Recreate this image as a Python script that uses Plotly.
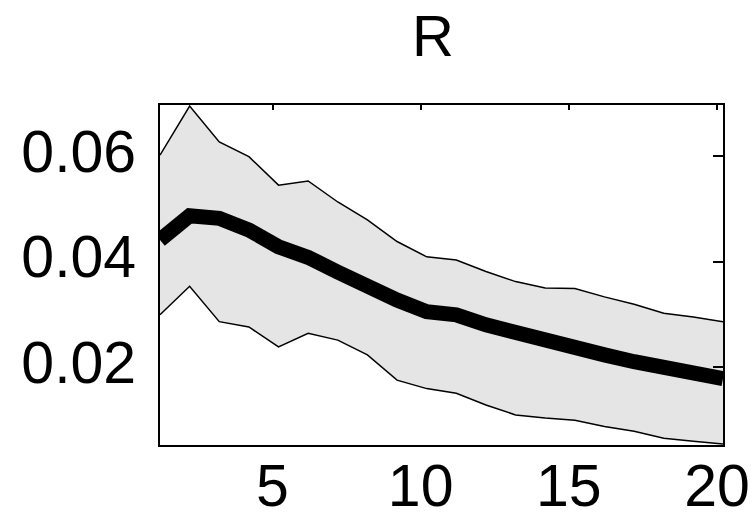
import plotly.graph_objects as go

horizon = list(range(1, 21))
upper = [0.0602, 0.0695, 0.0627, 0.0599, 0.0545, 0.0553, 0.0513, 0.0479, 0.0438, 0.0409,
         0.0403, 0.0381, 0.0362, 0.0350, 0.0349, 0.0333, 0.0319, 0.0302, 0.0295, 0.0286]
median = [0.0441, 0.0487, 0.0482, 0.0460, 0.0428, 0.0408, 0.0380, 0.0351, 0.0327, 0.0305,
          0.0299, 0.0280, 0.0264, 0.0248, 0.0238, 0.0223, 0.0210, 0.0197, 0.0191, 0.0178]
lower = [0.0299, 0.0353, 0.0286, 0.0276, 0.0238, 0.0264, 0.0251, 0.0223, 0.0175, 0.0159,
         0.0150, 0.0128, 0.0109, 0.0103, 0.0099, 0.0087, 0.0078, 0.0065, 0.0059, 0.0054]
title_text = "R"
x_ticks = [5, 10, 15, 20]
y_ticks = [0.02, 0.04, 0.06]
y_tick_labels = ["0.02", "0.04", "0.06"]

FONT = "Liberation Sans, Arial, sans-serif"

fig = go.Figure()
fig.add_trace(go.Scatter(x=horizon, y=upper, mode="lines",
                         line=dict(color="black", width=1.5), showlegend=False))
fig.add_trace(go.Scatter(x=horizon, y=lower, mode="lines", fill="tonexty",
                         fillcolor="#e5e5e5",
                         line=dict(color="black", width=1.5), showlegend=False))
fig.add_trace(go.Scatter(x=horizon, y=median, mode="lines",
                         line=dict(color="black", width=15), showlegend=False))

fig.update_layout(
    width=752, height=513,
    margin=dict(l=160, r=29, t=105, b=68, autoexpand=False),
    paper_bgcolor="white", plot_bgcolor="white",
    font=dict(family=FONT, size=59, color="black"),
    xaxis=dict(range=[1, 20], tickvals=x_ticks, ticks="", showgrid=False, zeroline=False,
               showline=True, mirror=True, linecolor="black", linewidth=2, automargin=False,
               ticklabelshift=-6, ticklabelstandoff=-12,
               tickfont=dict(family=FONT, size=59, color="black")),
    yaxis=dict(range=[0.0052, 0.0697], tickvals=y_ticks, ticktext=y_tick_labels, ticks="",
               showgrid=False, zeroline=False, automargin=False,
               showline=True, mirror=True, linecolor="black", linewidth=2,
               ticklabelstandoff=10, ticklabelshift=-5,
               tickfont=dict(family=FONT, size=59, color="black")),
    xaxis2=dict(range=[1.2, 20.2], overlaying="x", side="top", tickvals=x_ticks,
                ticks="inside", ticklen=5, tickwidth=2, tickcolor="black", automargin=False,
                showticklabels=False, showgrid=False, zeroline=False, showline=False),
    yaxis2=dict(range=[0.0052, 0.0697], overlaying="y", side="right", tickvals=y_ticks,
                ticks="inside", ticklen=10, tickwidth=2, tickcolor="black", automargin=False,
                showticklabels=False, showgrid=False, zeroline=False, showline=False),
    annotations=[dict(text=title_text, x=(432.5 - 160) / 563, y=1 + (105 - 35) / 340,
                      xref="paper", yref="paper",
                      xanchor="center", yanchor="middle", showarrow=False,
                      font=dict(family=FONT, size=58, color="black"))],
)
fig.add_trace(go.Scatter(x=[None], y=[None], xaxis="x2", yaxis="y2", showlegend=False,
                         hoverinfo="skip"))

fig.write_html("out.html")
